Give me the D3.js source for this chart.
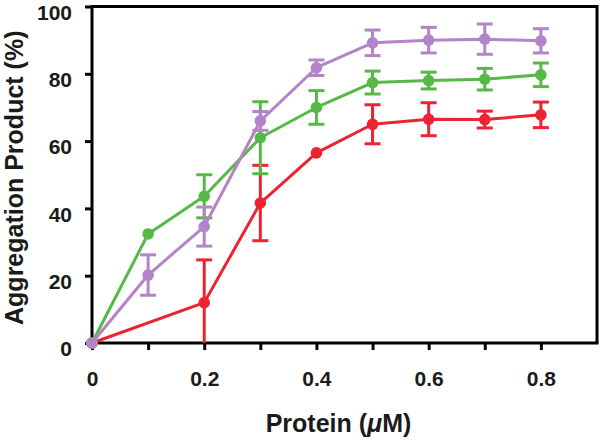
<!DOCTYPE html>
<html>
<head>
<meta charset="utf-8">
<script src="https://cdn.jsdelivr.net/npm/d3@7"></script>
<style>
  html, body { margin: 0; padding: 0; background: #fff; }
  svg { display: block; font-family: "Liberation Sans", Arial, Helvetica, sans-serif; }
</style>
</head>
<body>
<svg id="chart" width="600" height="442"></svg>
<script>
// ---- data ----
const xRed    = [0, 0.2, 0.3, 0.4, 0.5, 0.6, 0.7, 0.8];
const yRed    = [0, 12, 41.6, 56.5, 65, 66.5, 66.4, 67.8];
const eRed    = [0, 12.7, 11.2, 0, 5.8, 4.9, 2.5, 3.8];

const xGreen  = [0, 0.1, 0.2, 0.3, 0.4, 0.5, 0.6, 0.7, 0.8];
const yGreen  = [0, 32.4, 43.6, 61, 70, 77.4, 78, 78.4, 79.7];
const eGreen  = [0, 0, 6.4, 10.7, 5, 3.4, 2.5, 3.2, 3.5];

const xPurple = [0, 0.1, 0.2, 0.3, 0.4, 0.5, 0.6, 0.7, 0.8];
const yPurple = [0, 20.2, 34.6, 66, 81.8, 89.2, 90, 90.3, 89.8];
const ePurple = [0, 6, 5.8, 2.8, 2.3, 3.8, 3.8, 4.5, 3.6];

const xTicks = [0, 0.1, 0.2, 0.3, 0.4, 0.5, 0.6, 0.7, 0.8];
const xTickLabels = [0, 0.2, 0.4, 0.6, 0.8];
const yTicks = [0, 20, 40, 60, 80, 100];

const xTitle = "Protein (";
const xTitleMu = "\u03BC";
const xTitleEnd = "M)";
const yTitle = "Aggregation Product (%)";

const colors = { red: "#ec2330", green: "#56b947", purple: "#b384c8" };

// ---- layout ----
const svg = d3.select("#chart");
const mLeft = 92, mRight = 597, mTop = 6.5, mBottom = 343;

const x = d3.scaleLinear().domain([0, 0.9]).range([mLeft, mRight]);
const y = d3.scaleLinear().domain([0, 100]).range([mBottom, mTop]);

const series = [
  { xs: xRed, ys: yRed, es: eRed, color: colors.red },
  { xs: xGreen, ys: yGreen, es: eGreen, color: colors.green },
  { xs: xPurple, ys: yPurple, es: ePurple, color: colors.purple }
];

// frame (top and right)
svg.append("path")
  .attr("d", `M${mLeft},${mTop}H${mRight}V${mBottom}`)
  .attr("fill", "none").attr("stroke", "#000").attr("stroke-width", 3);

// axes
const xAxis = d3.axisBottom(x).tickValues(xTicks).tickSizeInner(7).tickSizeOuter(0).tickPadding(21)
  .tickFormat(d => xTickLabels.some(v => Math.abs(v - d) < 1e-9) ? String(+d.toFixed(1)) : "");
const gx = svg.append("g").attr("transform", `translate(0,${mBottom})`).call(xAxis);

const yAxis = d3.axisLeft(y).tickValues(yTicks).tickSizeInner(7).tickSizeOuter(0).tickPadding(13);
const gy = svg.append("g").attr("transform", `translate(${mLeft},0)`).call(yAxis);

[gx, gy].forEach(g => {
  g.select(".domain").attr("stroke", "#000").attr("stroke-width", 3);
  g.selectAll(".tick line").attr("stroke", "#000").attr("stroke-width", 3);
  g.selectAll(".tick text").attr("fill", "#1a1a1a")
    .style("font-size", "21px").style("font-weight", "bold")
    .style("font-family", "'Liberation Sans', Arial, sans-serif");
});
gy.selectAll(".tick text").attr("dy", "0.6em");
gx.select(".domain").attr("d", `M${mLeft - 1.5},0H${mRight + 1.5}`);
gy.select(".domain").attr("d", `M0,${mBottom + 1.5}V${mTop - 1.5}`);

// series
const line = d3.line().x(d => x(d[0])).y(d => y(d[1]));
series.forEach(s => {
  const pts = s.xs.map((v, i) => [v, s.ys[i], s.es[i]]);
  const g = svg.append("g");
  pts.forEach(p => {
    if (!p[2]) return;
    const hi = Math.min(100, p[1] + p[2]);
    const lo = Math.max(0, p[1] - p[2]);
    g.append("line")
      .attr("x1", x(p[0])).attr("x2", x(p[0]))
      .attr("y1", y(hi)).attr("y2", y(lo))
      .attr("stroke", s.color).attr("stroke-width", 3);
    const caps = [];
    if (p[1] + p[2] <= 100) caps.push(hi);
    if (p[1] - p[2] >= 0) caps.push(lo);
    caps.forEach(c => {
      g.append("line")
        .attr("x1", x(p[0]) - 8).attr("x2", x(p[0]) + 8)
        .attr("y1", y(c)).attr("y2", y(c))
        .attr("stroke", s.color).attr("stroke-width", 3);
    });
  });
  g.append("path").datum(pts).attr("d", line)
    .attr("fill", "none").attr("stroke", s.color).attr("stroke-width", 3)
    .attr("stroke-linejoin", "round");
  g.selectAll("circle").data(pts).join("circle")
    .attr("cx", d => x(d[0])).attr("cy", d => y(d[1])).attr("r", 5.8)
    .attr("fill", s.color);
});

// axis titles
const xt = svg.append("text")
  .attr("x", (mLeft + mRight) / 2 - 6).attr("y", 432)
  .attr("text-anchor", "middle")
  .style("font-size", "25px").style("font-weight", "bold").attr("fill", "#1a1a1a");
xt.append("tspan").text(xTitle);
xt.append("tspan").style("font-style", "italic").text(xTitleMu);
xt.append("tspan").text(xTitleEnd);

svg.append("text")
  .attr("transform", `translate(23,${(mTop + mBottom) / 2 + 3}) rotate(-90)`)
  .attr("text-anchor", "middle")
  .style("font-size", "25px").style("font-weight", "bold").attr("fill", "#1a1a1a")
  .text(yTitle);
</script>
</body>
</html>
